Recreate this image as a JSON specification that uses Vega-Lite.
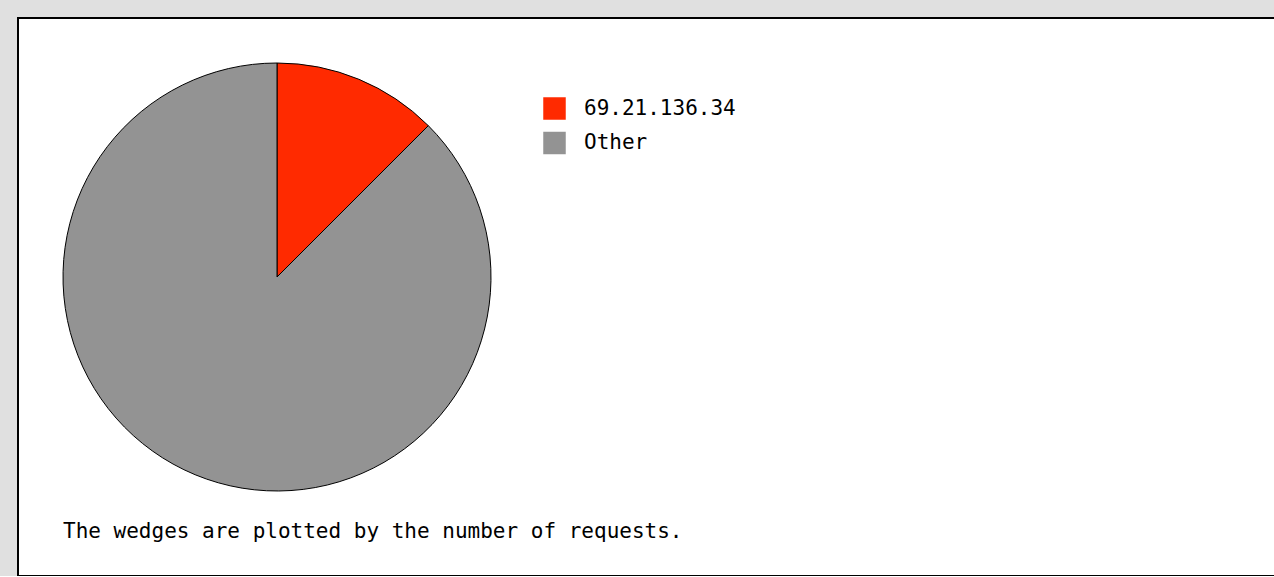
{
  "$schema": "https://vega.github.io/schema/vega-lite/v6.json",
  "autosize": {"type": "none"},
  "padding": {"left": 18, "top": 18, "right": 0, "bottom": 0},
  "width": 1257,
  "height": 558,
  "background": "#e0e0e0",
  "view": {"stroke": "black", "strokeWidth": 2, "fill": "white"},
  "data": {
    "values": [
      {"host": "69.21.136.34", "requests": 125},
      {"host": "Other", "requests": 875}
    ]
  },
  "title": {
    "text": "The wedges are plotted by the number of requests.",
    "orient": "bottom",
    "anchor": "start",
    "frame": "group",
    "offset": -38,
    "baseline": "alphabetic",
    "dx": 45,
    "font": "DejaVu Sans Mono",
    "fontSize": 21,
    "fontWeight": "normal",
    "color": "black"
  },
  "mark": {
    "type": "arc",
    "radius": 214,
    "x": 259,
    "y": 259,
    "stroke": "black",
    "strokeWidth": 1
  },
  "encoding": {
    "theta": {"field": "requests", "type": "quantitative", "stack": true},
    "order": {"field": "requests", "sort": "ascending"},
    "color": {
      "field": "host",
      "type": "nominal",
      "scale": {
        "domain": ["69.21.136.34", "Other"],
        "range": ["#ff2a00", "#939393"]
      },
      "legend": {
        "title": null,
        "orient": "none",
        "legendX": 525,
        "legendY": 79,
        "padding": 0,
        "symbolType": "square",
        "symbolSize": 506,
        "symbolStrokeWidth": 0,
        "symbolOpacity": 1,
        "rowPadding": 11.5,
        "labelOffset": 18,
        "labelFont": "DejaVu Sans Mono",
        "labelFontSize": 21,
        "labelColor": "black"
      }
    }
  }
}
